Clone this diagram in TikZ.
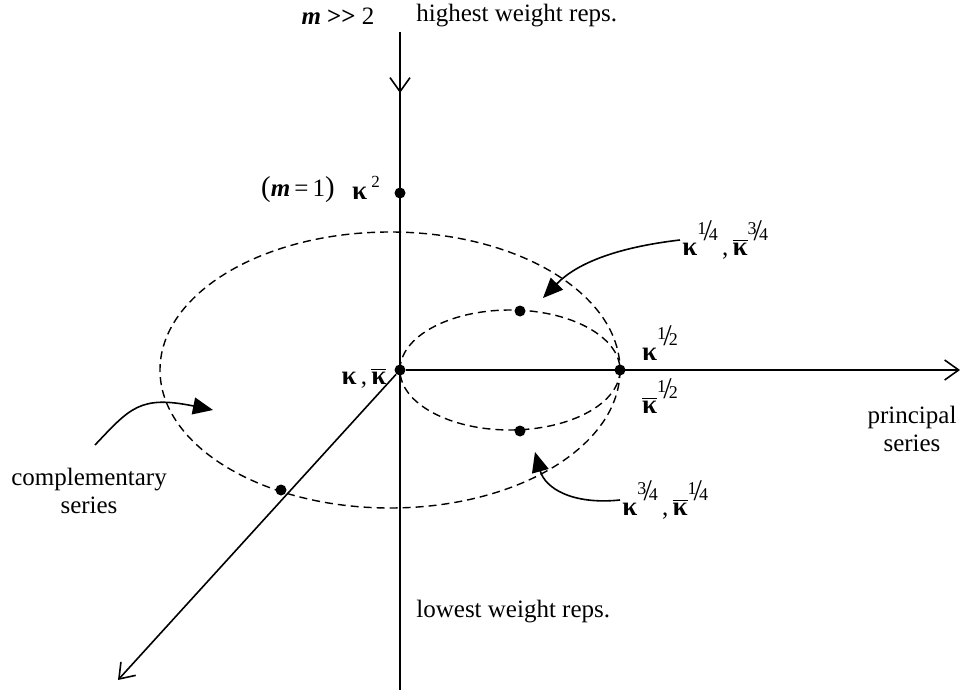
\documentclass[tikz,border=0pt]{standalone}
\usepackage{fontspec}
\setmainfont{Liberation Serif}
\usetikzlibrary{arrows.meta,positioning}
\newcommand\kap{{\fontsize{13.5}{14}\selectfont\textbf{κ}}}
\newcommand\kapb{$\overline{\hbox{\kap}}$}
\newcommand\kfrac[2]{\raisebox{1.3ex}{\fontsize{9}{9}\selectfont\raisebox{0.7ex}{#1}\kern-0.16em{\fontsize{15}{15}\selectfont/}\kern-0.16em#2}}
\tikzset{
  axis/.style={line width=0.8pt},
  axarr/.style={axis,-{Straight Barb[length=7pt,width=10pt]}},
  ring/.style={dashed,line width=0.7pt,dash pattern=on 4pt off 2.5pt},
  dot/.style={circle,fill,inner sep=0pt,minimum size=5.5pt},
  curarr/.style={line width=0.8pt,-{Triangle[length=10pt,width=8.5pt]}},
  lbl/.style={font=\fontsize{12.5}{14}\selectfont,inner sep=1pt}
}
\begin{document}
\begin{tikzpicture}[x=0.5pt,y=-0.5pt]
  \useasboundingbox (0,0) rectangle (970,690);

  % axes
  \coordinate (top) at (400,32);
  \coordinate (mid) at (400,93);
  \coordinate (bot) at (400,690);
  \coordinate (right) at (960,370);
  \coordinate (diag) at (118,680);
  \node[dot] (o) at (400,370) {};
  \draw[axis] (top) -- (bot);
  \draw[axarr] (top) -- (mid);
  \draw[axarr] (o) -- (right);
  \draw[axarr] (o) -- (diag);

  % ellipses
  \draw[ring] (390,370) ellipse [x radius=230,y radius=138];
  \draw[ring] (510,370) ellipse [x radius=110,y radius=60];

  % points
  \node[dot] (k2) at (400,193) {};
  \node[dot] (khalf) at (620,370) {};
  \node[dot] (kup) at (520,311) {};
  \node[dot] (kdn) at (520,431) {};
  \node[dot] (kcomp) at (281,490) {};

  % labels
  \node[lbl] (mbig) at (338,16) {\textbf{\textit{m}} \textbf{{>}{>}} 2};
  \node[lbl,anchor=west] (high) at (414,16) {highest weight reps.};
  \node[lbl] (mone) at (298,190) {{\Large(}\textbf{\textit{m}}\,=\,1{\Large)}};
  \node[lbl] (kapsq) at (366,188) {\kap\,\raisebox{1.1ex}{\fontsize{8.5}{8.5}\selectfont 2}};
  \node[lbl,anchor=west] (kq) at (680,240) {\kap\kfrac14\,,\,\kapb\kfrac34};
  \node[lbl] (korig) at (364,378) {\kap\,,\,\kapb};
  \node[lbl] (kh) at (660,343) {\kap\kfrac12};
  \node[lbl] (khb) at (660,396) {\kapb\kfrac12};
  \node[lbl,align=center] (princ) at (912,429) {principal\\series};
  \node[lbl,anchor=west] (kt) at (620,500) {\kap\kfrac34\,,\,\kapb\kfrac14};
  \node[lbl,anchor=west] (low) at (414,612) {lowest weight reps.};
  \node[lbl,align=center] (comp) at (89,491) {complementary\\series};

  % pointers
  \coordinate (tipq) at (543,298);
  \coordinate (tipt) at (535,452);
  \coordinate (tipc) at (213,410);
  \coordinate (startc) at (95,445);
  \draw[curarr] (kq.west) .. controls (620,247) and (578,262) .. (tipq);
  \draw[curarr] (kt.west) .. controls (572,505) and (545,488) .. (tipt);
  \draw[curarr] (startc) .. controls (130,408) and (140,395) .. (tipc);

\end{tikzpicture}
\end{document}
